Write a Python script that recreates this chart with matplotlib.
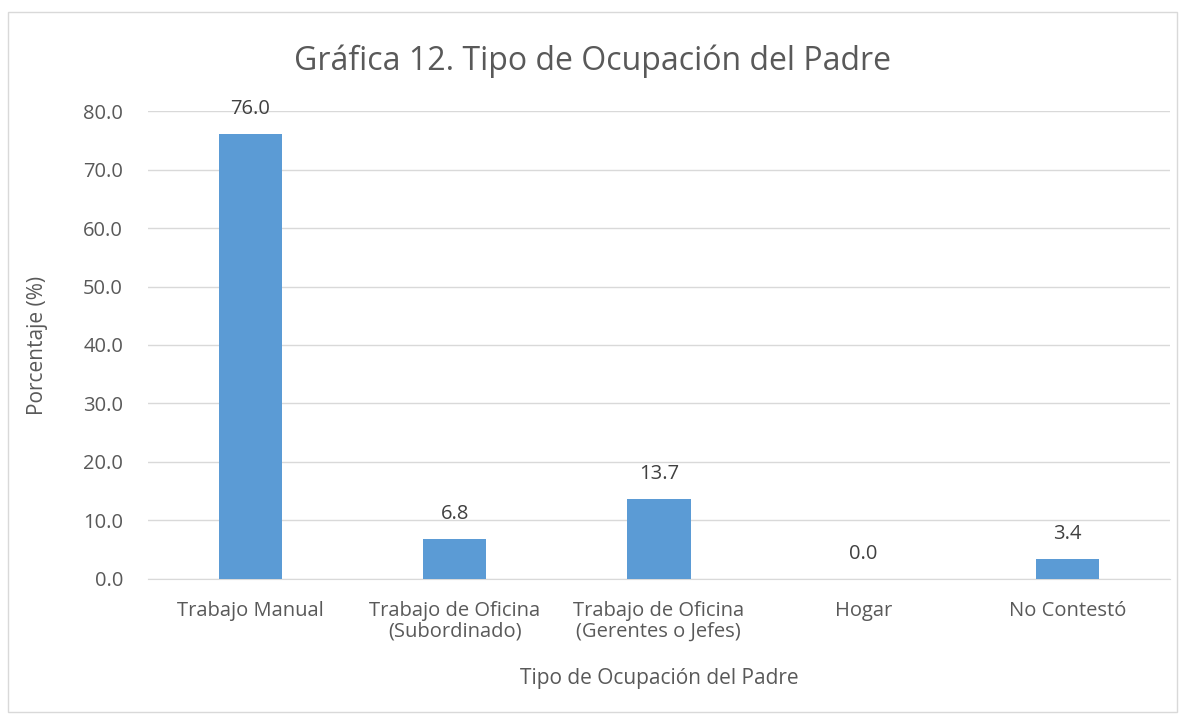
import matplotlib
matplotlib.use("Agg")
import matplotlib.pyplot as plt
from matplotlib.patches import Rectangle

# datos de la grafica
categorias = ["Trabajo Manual", "Trabajo de Oficina\n(Subordinado)",
              "Trabajo de Oficina\n(Gerentes o Jefes)", "Hogar", "No Contestó"]
porcentajes = [76.0, 6.8, 13.7, 0.0, 3.4]
yticks = [0, 10, 20, 30, 40, 50, 60, 70, 80]

plt.rcParams['font.family'] = ['Open Sans', 'DejaVu Sans']
gris = '#595959'

fig = plt.figure(figsize=(11.85, 7.21), dpi=100)
ax = fig.add_axes([0.125, 0.197, 0.862, 0.649])

# marco exterior del grafico
fig.patches.append(Rectangle((0.007, 0.012), 0.986, 0.972, transform=fig.transFigure,
                             fill=False, edgecolor='#d9d9d9', linewidth=1))

x = list(range(len(categorias)))
ax.bar(x, porcentajes, width=0.31, color='#5B9BD5', zorder=3)

for xi, v in zip(x, porcentajes):
    ax.text(xi, v + 2.6, f"{v:.1f}", ha='center', va='bottom', fontsize=14.5, color='#404040')

ax.set_ylim(0, 80)
ax.set_xlim(-0.5, len(categorias) - 0.5)
ax.set_yticks(yticks)
ax.set_yticklabels([f"{t:.1f}" for t in yticks], fontsize=14.5, color=gris)
ax.set_xticks(x)
ax.set_xticklabels(categorias, fontsize=14.5, color=gris, linespacing=1.05)
ax.tick_params(axis='y', length=0, pad=18)
ax.tick_params(axis='x', length=0, pad=16)
ax.grid(axis='y', color='#d9d9d9', linewidth=1, zorder=0)
for s in ['top', 'right', 'left']:
    ax.spines[s].set_visible(False)
ax.spines['bottom'].set_color('#d9d9d9')

ax.set_ylabel("Porcentaje (%)", fontsize=15, color=gris)
ax.yaxis.set_label_coords(-0.098, 0.5)
ax.set_xlabel("Tipo de Ocupación del Padre", fontsize=15, color=gris)
ax.xaxis.set_label_coords(0.5, -0.19)
fig.text(0.5, 0.915, "Gráfica 12. Tipo de Ocupación del Padre", ha='center', va='center',
         fontsize=23, color=gris)

fig.savefig("out.png", dpi=100)
